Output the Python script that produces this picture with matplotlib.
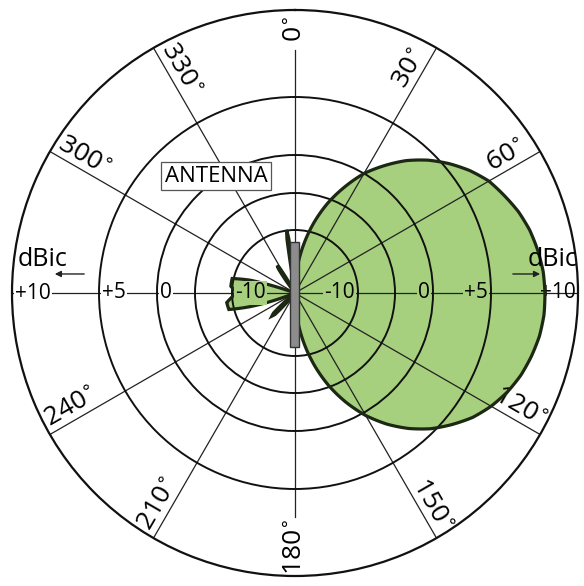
import numpy as np
import matplotlib
matplotlib.use("Agg")
import matplotlib.pyplot as plt
from matplotlib.patches import Rectangle, PathPatch
from matplotlib.path import Path

# 字体
plt.rcParams["font.family"] = ["Open Sans", "DejaVu Sans"]

# 主瓣: 角度(顺时针, 0 = 正上方), 增益 dBic
main_deg = [0, 5, 10, 15, 20, 25, 30, 35, 40, 45, 50, 55, 60, 65, 70, 75, 80, 85, 90,
            95, 100, 105, 110, 115, 120, 125, 130, 135, 140, 145, 150, 155, 160, 165, 170, 175, 180]
main_dbic = [-25, -19.1, -13.4, -8.7, -5.6, -2.8, 0.0, 1.5, 3.0, 4.3, 5.3, 6.0, 6.6, 7.0, 7.4, 7.7, 7.9, 8.05, 8.1,
             8.1, 8.0, 7.8, 7.55, 7.2, 6.75, 6.2, 5.5, 4.65, 3.35, 1.9, 0.3, -2.3, -5.2, -8.4, -13.0, -19.0, -25]
# 副瓣和后瓣
side_deg = [219, 223, 225, 227, 231, 248, 253, 256, 262, 268, 272, 276,
            283, 286, 290, 322, 325.5, 327, 328.5, 332, 350.5, 351.5, 352.5, 353.5, 354.5, 360]
side_dbic = [-25, -18, -17.2, -18, -25, -25, -14, -9.3, -9.2, -10.5, -10.8, -9.8,
             -9.8, -14, -25, -25, -18, -17.2, -18, -25, -25, -12, -9.9, -12, -25, -25]

# 径向刻度 (非线性)
ring_db = [-25, -10, -5, 0, 5, 10]
ring_px = [0, 63, 100, 138, 196, 283]
ring_shown = [-10, -5, 0, 5]
scale_labels = ["+10", "+5", "0", "-10"]
scale_values = [10, 5, 0, -10]

# 角度标签
spoke_deg = [0, 30, 60, 90, 120, 150, 180, 210, 240, 270, 300, 330]
label_deg = [0, 30, 60, 120, 150, 180, 210, 240, 300, 330]

green = "#a6cf7e"


def fwd(v):
    return np.interp(v, ring_db, ring_px)


def inv(v):
    return np.interp(v, ring_px, ring_db)


fig = plt.figure(figsize=(5.84, 5.86), dpi=100)
ax = fig.add_axes([12 / 584, 10 / 586, 566 / 584, 566 / 586], projection="polar")
ax.set_theta_zero_location("N")
ax.set_theta_direction(-1)
ax.set_rscale("function", functions=(fwd, inv))
ax.set_rlim(-25, 10)
ax.set_axisbelow(False)

# 网格
ax.set_xticks([])
ax.set_rgrids(ring_shown, labels=[""] * len(ring_shown))
ax.yaxis.grid(True, color="#111111", lw=1.4)
ax.spines["polar"].set_linewidth(1.6)
ax.spines["polar"].set_color("#111111")

for a in spoke_deg:
    if a == 0:
        r_end = 7.7
    elif a == 180:
        r_end = 6.6
    else:
        r_end = 10
    ax.plot([np.radians(a)] * 2, [-25, r_end], color="#222222", lw=0.9, zorder=2)

# 方向图 (路径按极坐标插值, 画成曲线)
pat_deg = main_deg + side_deg
pat_dbic = main_dbic + side_dbic
lobe = Path(np.column_stack([np.radians(pat_deg), pat_dbic]), _interpolation_steps=16)
ax.add_patch(PathPatch(lobe, transform=ax.transData, fc=green, ec="none", zorder=1))
ax.add_patch(PathPatch(lobe, transform=ax.transData, fill=False, ec="#1c2814", lw=2.3, zorder=4))

# 角度标签
for a in label_deg:
    rot = 90 - a
    if rot <= -90:
        rot += 180
    txt = "%d$^{\\circ}$" % a
    if a == 0:
        ax.text(np.radians(a), 8.9, txt, rotation=rot, rotation_mode="anchor",
                ha="center", va="center", fontsize=19, zorder=3)
    elif a == 180:
        ax.text(np.radians(a), 8.3, txt, rotation=rot, rotation_mode="anchor",
                ha="center", va="center", fontsize=19, zorder=3)
    else:
        ax.text(np.radians(a), 8.2, txt, rotation=rot, rotation_mode="anchor",
                ha="center", va="bottom", fontsize=19, zorder=3)

# 水平轴上的 dBic 刻度
for lab, v in zip(scale_labels, scale_values):
    fc = "white" if v != -10 else green
    ax.annotate(lab, xy=(np.radians(270), v), xytext=(3, 0), textcoords="offset pixels",
                ha="left", va="center", fontsize=15, zorder=5,
                bbox=dict(boxstyle="square,pad=0.05", fc=fc, ec="none"))
    if v == 10:
        ax.annotate(lab, xy=(np.radians(90), v), xytext=(-2, 0), textcoords="offset pixels",
                    ha="right", va="center", fontsize=15, zorder=3)
    else:
        ax.annotate(lab, xy=(np.radians(90), v), xytext=(-3, 0), textcoords="offset pixels",
                    ha="right", va="center", fontsize=15, zorder=3,
                    bbox=dict(boxstyle="square,pad=0.05", fc=green, ec="none"))

# dBic 单位和箭头
ax.text(0.0106, 0.56, "dBic", transform=ax.transAxes, ha="left", va="center", fontsize=18, zorder=6)
ax.text(0.999, 0.56, "dBic", transform=ax.transAxes, ha="right", va="center", fontsize=18, zorder=6)
ax.annotate("", xy=(0.0707, 0.5336), xytext=(0.1325, 0.5336), xycoords="axes fraction",
            arrowprops=dict(arrowstyle="-|>", color="#222222", lw=1, mutation_scale=9), zorder=6)
ax.annotate("", xy=(0.938, 0.5336), xytext=(0.880, 0.5336), xycoords="axes fraction",
            arrowprops=dict(arrowstyle="-|>", color="#222222", lw=1, mutation_scale=9), zorder=6)

# 天线
ax.add_patch(Rectangle((0.491, 0.4046), 0.016, 0.1855, transform=ax.transAxes,
                       fc="#8c8c8c", ec="#333333", lw=1, zorder=5))
ax.text(0.3604, 0.7067, "ANTENNA", transform=ax.transAxes, ha="center", va="center", fontsize=16,
        zorder=6, bbox=dict(boxstyle="square,pad=0.15", fc="white", ec="#555555", lw=0.9))

fig.savefig("out.png", dpi=100)
